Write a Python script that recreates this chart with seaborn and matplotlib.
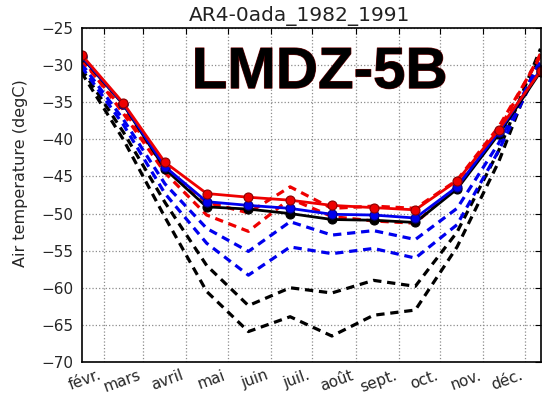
import numpy as np
import pandas as pd
import matplotlib
matplotlib.use("Agg")
import matplotlib.pyplot as plt
import matplotlib.patheffects as pe
import seaborn as sns

# Monthly mean air temperature (degC), January .. December
months = ["janv.", "févr.", "mars", "avril", "mai", "juin", "juil.",
          "août", "sept.", "oct.", "nov.", "déc."]
month_len = [31, 28, 31, 30, 31, 30, 31, 31, 30, 31, 30, 31]

# model output on a 360-day calendar: one value every 30 days, mid-month
day_of_year = [15, 45, 75, 105, 135, 165, 195, 225, 255, 285, 315, 345]

ref_black = [-28.9, -35.3, -44.0, -49.1, -49.4, -50.0, -50.8, -50.9, -51.2, -46.7, -39.3, -30.9]
ref_blue = [-28.8, -35.2, -43.7, -48.4, -48.9, -49.3, -50.1, -50.2, -50.6, -46.4, -39.0, -30.6]
ref_red = [-28.6, -35.1, -43.1, -47.3, -47.8, -48.2, -48.9, -49.2, -49.5, -45.6, -38.7, -30.8]

red_dash_1 = [-29.0, -36.5, -44.5, -50.2, -52.4, -48.0, -50.4, -51.0, -51.3, -46.3, -38.8, -28.5]
red_dash_2 = [-29.3, -36.0, -43.8, -48.5, -49.9, -46.4, -49.3, -49.0, -49.3, -45.5, -38.3, -28.8]
blue_dash_1 = [-29.8, -37.3, -46.0, -52.0, -55.1, -51.1, -52.9, -52.3, -53.5, -49.3, -40.5, -29.3]
blue_dash_2 = [-30.2, -38.0, -47.3, -54.0, -58.3, -54.5, -55.4, -54.7, -56.0, -51.5, -41.5, -29.8]
black_dash_1 = [-30.5, -39.0, -48.5, -57.0, -62.4, -60.0, -60.7, -59.0, -59.8, -52.5, -41.5, -27.8]
black_dash_2 = [-31.0, -40.0, -50.5, -60.5, -65.9, -63.9, -66.5, -63.7, -63.0, -54.5, -43.0, -28.5]

title = "AR4-0ada_1982_1991"
model_name = "LMDZ-5B"
y_label = "Air temperature (degC)"
y_ticks = [-70, -65, -60, -55, -50, -45, -40, -35, -30, -25]

sns.set_theme(style="white")
plt.rcParams["font.family"] = ["DejaVu Sans"]
plt.rcParams["axes.unicode_minus"] = True
plt.rcParams["lines.dashed_pattern"] = [2.6, 1.8]

fig = plt.figure(figsize=(5.42, 3.95), dpi=100)
ax = fig.add_axes([81.5 / 542, 33 / 395, 459 / 542, 334 / 395])

dashed = [
    (black_dash_2, "black"), (black_dash_1, "black"),
    (blue_dash_2, "#0000ee"), (blue_dash_1, "#0000ee"),
    (red_dash_2, "#ee0000"), (red_dash_1, "#ee0000"),
]
for values, color in dashed:
    sns.lineplot(x=day_of_year, y=values, ax=ax, color=color,
                 linestyle="--", linewidth=2.3)

solid = [(ref_black, "black", "black"),
         (ref_blue, "#0000ee", "#00008b"),
         (ref_red, "#ee0000", "#8b0000")]
for values, color, edge in solid:
    sns.lineplot(x=day_of_year, y=values, ax=ax, color=color,
                 linewidth=2.0, marker="o", markersize=6.5,
                 markeredgecolor=edge, markeredgewidth=0.8)

# month ticks at the first day of each month (February .. December)
tick_pos = list(np.cumsum(month_len[:-1]))
ax.set_xticks(tick_pos)
ax.set_xticklabels(months[1:], rotation=20, ha="right",
                   rotation_mode="default", fontsize=11)
ax.set_xlim(day_of_year[0], day_of_year[-1])

ax.set_ylim(-70, -25)
ax.set_yticks(y_ticks)
ax.set_yticklabels([f"\u2212{abs(v)}" for v in y_ticks], fontsize=11)

ax.grid(True, which="major", linestyle=":", color="0.55", linewidth=0.9)
ax.tick_params(axis="x", direction="in", length=4, width=0.8,
               color="black", pad=4, top=True)
ax.tick_params(axis="y", direction="in", length=4, width=0.8,
               color="black", pad=6, right=True)
for s in ax.spines.values():
    s.set_color("black")
    s.set_linewidth(1.2)

ax.set_ylabel(y_label, fontsize=11.5)
ax.yaxis.set_label_coords(-0.117, 0.566)
ax.set_xlabel("")
ax.text(0.476, 1.036, title, transform=ax.transAxes, ha="center",
        va="center", fontsize=14.5, color="#222222")

ax.text(0.240, 0.820, model_name, transform=ax.transAxes, ha="left",
        va="baseline", fontsize=42, fontweight="bold",
        family="Liberation Sans", color="black",
        path_effects=[pe.withStroke(linewidth=0.8, foreground="#7a1010")])

fig.savefig("out.png", dpi=100)
